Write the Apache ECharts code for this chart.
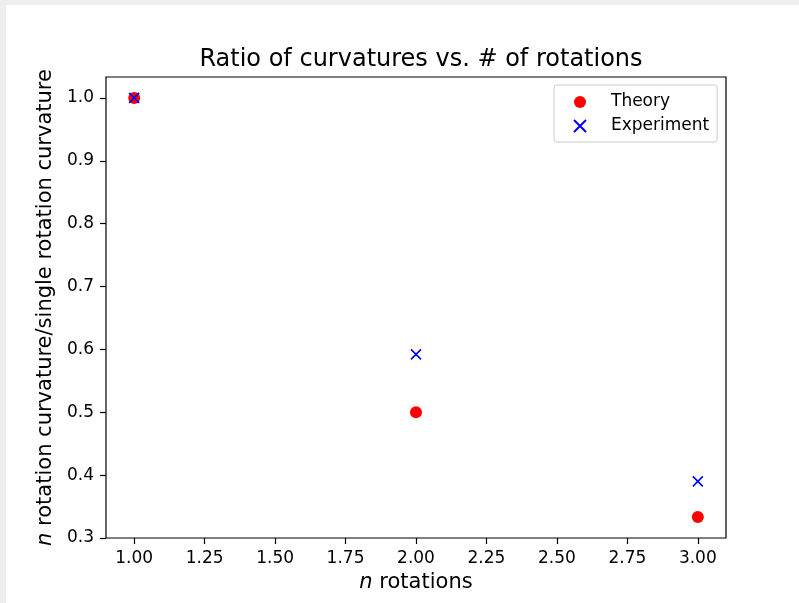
<!DOCTYPE html>
<html>
<head>
<meta charset="utf-8">
<script src="https://cdn.jsdelivr.net/npm/echarts@6/dist/echarts.min.js"></script>
<style>
  html, body { margin: 0; padding: 0; background: #eeeeee; }
  #chart { position: absolute; left: 6px; top: 5px; width: 793px; height: 598px; background: #fff; }
</style>
</head>
<body>
<div id="chart"></div>
<script>
const rotations = [1, 2, 3]
const theory = [1.0, 0.5, 0.3333]
const experiment = [1.0, 0.592, 0.39]
const xTicks = [1.0, 1.25, 1.5, 1.75, 2.0, 2.25, 2.5, 2.75, 3.0]
const yTicks = [0.3, 0.4, 0.5, 0.6, 0.7, 0.8, 0.9, 1.0]

const font = 'DejaVu Sans'
const crossPath = 'path://M0,0L10,10M10,0L0,10'

const chart = echarts.init(document.getElementById('chart'))
chart.setOption({
  animation: false,
  textStyle: { fontFamily: font },
  title: {
    text: 'Ratio of curvatures vs. # of rotations',
    left: 410,
    top: 38,
    textAlign: 'center',
    textStyle: { fontFamily: font, fontSize: 24, fontWeight: 'normal', color: '#000' },
  },
  grid: {
    left: 100,
    top: 72,
    width: 620,
    height: 461,
    show: true,
    borderColor: '#000',
    borderWidth: 1.2,
    containLabel: false,
  },
  legend: {
    orient: 'vertical',
    left: 548,
    top: 80,
    padding: [7, 8, 6, 19],
    itemGap: 4,
    itemWidth: 12,
    itemHeight: 12,
    borderColor: '#cccccc',
    borderWidth: 1,
    borderRadius: 3,
    backgroundColor: '#fff',
    textStyle: { fontFamily: font, fontSize: 17, color: '#000', lineHeight: 20, padding: [0, 0, 0, 20] },
    data: ['Theory', 'Experiment'],
  },
  xAxis: {
    type: 'value',
    min: 0.9,
    max: 3.1,
    name: '{i|n} rotations',
    nameLocation: 'middle',
    nameGap: 33,
    nameTextStyle: {
      fontFamily: font, fontSize: 21, color: '#000',
      rich: { i: { fontFamily: font, fontSize: 21, fontStyle: 'italic', color: '#000' } },
    },
    axisLine: { show: false },
    splitLine: { show: false },
    axisTick: { show: true, length: 6, lineStyle: { color: '#000', width: 1.2 }, customValues: xTicks },
    axisLabel: {
      color: '#000', fontSize: 17, fontFamily: font, margin: 12,
      customValues: xTicks,
      formatter: (v) => v.toFixed(2),
    },
  },
  yAxis: {
    type: 'value',
    min: 0.3,
    max: 1.0333,
    name: '{i|n} rotation curvature/single rotation curvature',
    nameLocation: 'middle',
    nameGap: 50,
    nameTextStyle: {
      fontFamily: font, fontSize: 21, color: '#000',
      rich: { i: { fontFamily: font, fontSize: 21, fontStyle: 'italic', color: '#000' } },
    },
    axisLine: { show: false },
    splitLine: { show: false },
    axisTick: { show: true, length: 6, lineStyle: { color: '#000', width: 1.2 }, customValues: yTicks },
    axisLabel: {
      color: '#000', fontSize: 17, fontFamily: font, margin: 12,
      customValues: yTicks,
      formatter: (v) => v.toFixed(1),
    },
  },
  series: [
    {
      name: 'Theory',
      type: 'scatter',
      symbol: 'circle',
      symbolSize: 12,
      itemStyle: { color: '#ff0000', opacity: 1 },
      data: rotations.map((x, i) => [x, theory[i]]),
    },
    {
      name: 'Experiment',
      type: 'scatter',
      symbol: crossPath,
      symbolSize: 10,
      itemStyle: { color: '#0000ff', borderColor: '#0000ff', borderWidth: 1.6, opacity: 1 },
      data: rotations.map((x, i) => [x, experiment[i]]),
    },
  ],
})
</script>
</body>
</html>
